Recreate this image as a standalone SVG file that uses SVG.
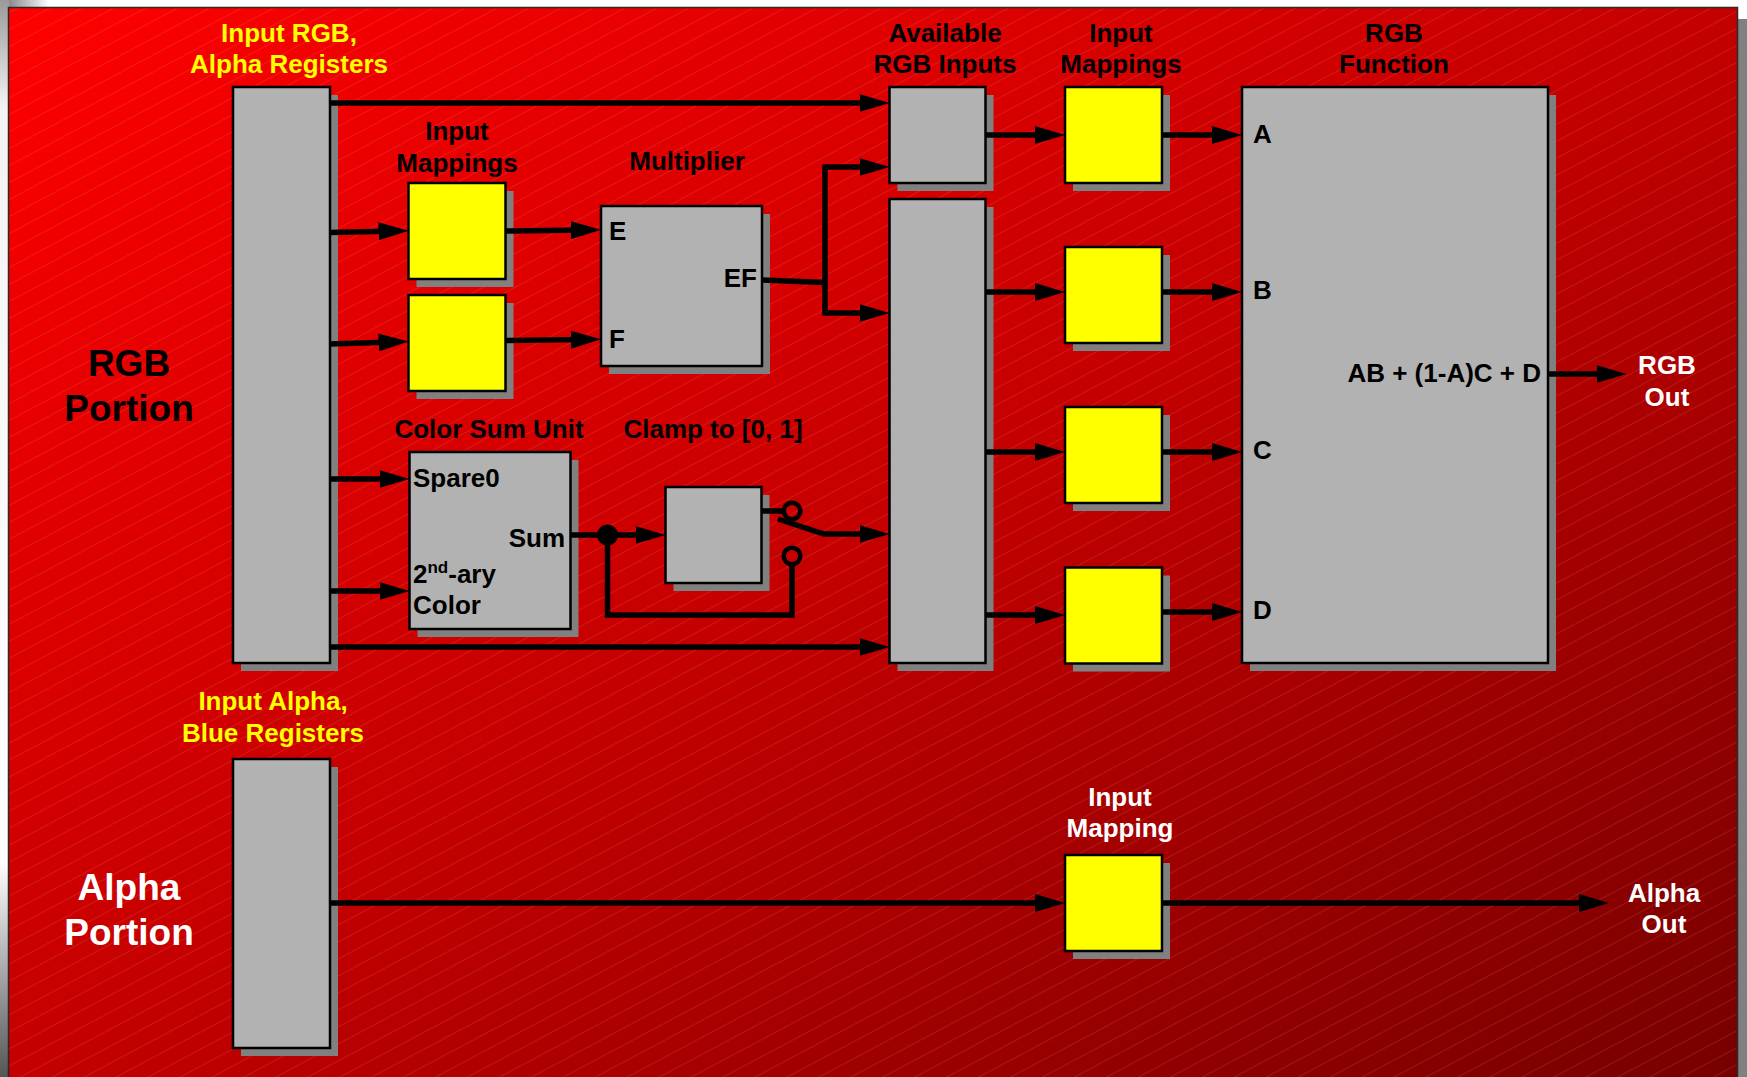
<svg xmlns="http://www.w3.org/2000/svg" width="1747" height="1077" viewBox="0 0 1747 1077">
<defs>
  <linearGradient id="bg" x1="0" y1="0" x2="1" y2="1">
    <stop offset="0" stop-color="#ff0000"/>
    <stop offset="0.5" stop-color="#c40000"/>
    <stop offset="1" stop-color="#760000"/>
  </linearGradient>
  <linearGradient id="leftEdge" x1="0" y1="0" x2="0" y2="1">
    <stop offset="0" stop-color="#9a9a9a"/>
    <stop offset="0.1" stop-color="#f4f4f4"/>
    <stop offset="0.8" stop-color="#ffffff"/>
    <stop offset="1" stop-color="#555555"/>
  </linearGradient>
  <linearGradient id="topEdge" x1="0" y1="0" x2="1" y2="0">
    <stop offset="0" stop-color="#8a8a8a"/>
    <stop offset="1" stop-color="#ffffff"/>
  </linearGradient>
  <pattern id="hatch" patternUnits="userSpaceOnUse" width="200" height="15" patternTransform="rotate(-28)">
    <line x1="0" y1="0.5" x2="200" y2="0.5" stroke="#ffb0b0" stroke-opacity="0.14" stroke-width="1"/>
  </pattern>
  <marker id="arr" markerUnits="userSpaceOnUse" markerWidth="30" markerHeight="18" viewBox="0 0 30 18" refX="15" refY="9" orient="auto">
    <path d="M0,0 L30,9 L0,18 Z" fill="#000"/>
  </marker>
</defs>
<style>
  .shadow { fill: #808080; }
  .gbox { fill: #b2b2b2; stroke: #000; stroke-width: 2.5; }
  .ybox { fill: #ffff00; stroke: #000; stroke-width: 2.5; }
  .conn { fill: none; stroke: #000; stroke-width: 5.5; stroke-linejoin: miter; }
  .arrow { marker-end: url(#arr); }
  text { font-family: "Liberation Sans", Arial, sans-serif; font-weight: bold; }
  .lbl { font-size: 26px; fill: #000; text-anchor: middle; }
  .ylbl { font-size: 26px; fill: #ffff00; text-anchor: middle; }
  .wlbl { font-size: 26px; fill: #ffffff; text-anchor: middle; }
  .big { font-size: 37px; fill: #000; text-anchor: middle; }
  .bigw { font-size: 37px; fill: #ffffff; text-anchor: middle; }
  .port { font-size: 26px; fill: #000; }
</style>

<!-- background -->
<rect x="0" y="0" width="1747" height="1077" fill="#ffffff"/>
<rect x="0" y="0" width="9" height="1077" fill="url(#leftEdge)"/>
<rect x="9" y="0" width="40" height="8" fill="url(#topEdge)"/>
<rect x="1737" y="19" width="12" height="1060" fill="#808080"/>
<rect x="8.5" y="7.5" width="1729" height="1080" fill="url(#bg)" stroke="#2a2a2a" stroke-width="1.5"/>
<rect x="9.5" y="8.5" width="1727" height="1070" fill="url(#hatch)"/>

<!-- section labels -->
<g id="label-rgb-portion">
  <text class="big" x="129" y="376">RGB</text>
  <text class="big" x="129" y="421">Portion</text>
</g>
<g id="label-alpha-portion">
  <text class="bigw" x="129" y="900">Alpha</text>
  <text class="bigw" x="129" y="945">Portion</text>
</g>

<!-- nodes -->
<g id="rgb-registers">
  <rect class="shadow" x="241" y="95" width="97" height="576"/>
  <rect class="gbox" x="233" y="87" width="97" height="576"/>
  <text class="ylbl" x="289" y="42">Input RGB,</text>
  <text class="ylbl" x="289" y="73">Alpha Registers</text>
</g>

<g id="alpha-registers">
  <rect class="shadow" x="241" y="767" width="97" height="289"/>
  <rect class="gbox" x="233" y="759" width="97" height="289"/>
  <text class="ylbl" x="273" y="710">Input Alpha,</text>
  <text class="ylbl" x="273" y="742">Blue Registers</text>
</g>

<g id="input-mapping-e">
  <rect class="shadow" x="416.5" y="191" width="97" height="96"/>
  <rect class="ybox" x="408.5" y="183" width="97" height="96"/>
  <text class="lbl" x="457" y="140">Input</text>
  <text class="lbl" x="457" y="172">Mappings</text>
</g>

<g id="input-mapping-f">
  <rect class="shadow" x="416.5" y="303" width="97" height="96"/>
  <rect class="ybox" x="408.5" y="295" width="97" height="96"/>
</g>

<g id="multiplier">
  <rect class="shadow" x="609" y="214" width="161" height="160"/>
  <rect class="gbox" x="601" y="206" width="161" height="160"/>
  <text class="lbl" x="687" y="170">Multiplier</text>
  <text class="port" x="609" y="240">E</text>
  <text class="port" x="609" y="348">F</text>
  <text class="port" x="757" y="287" text-anchor="end">EF</text>
</g>

<g id="color-sum-unit">
  <rect class="shadow" x="417.5" y="460" width="161" height="177"/>
  <rect class="gbox" x="409.5" y="452" width="161" height="177"/>
  <text class="lbl" x="489" y="438">Color Sum Unit</text>
  <text class="port" x="413" y="487">Spare0</text>
  <text class="port" x="565" y="547" text-anchor="end">Sum</text>
  <text class="port" x="413" y="583">2<tspan font-size="17" dy="-10">nd</tspan><tspan dy="10">-ary</tspan></text>
  <text class="port" x="413" y="614">Color</text>
</g>

<g id="clamp">
  <rect class="shadow" x="673.5" y="495" width="96" height="96"/>
  <rect class="gbox" x="665.5" y="487" width="96" height="96"/>
  <text class="lbl" x="713" y="438">Clamp to [0, 1]</text>
</g>

<g id="available-top">
  <rect class="shadow" x="897.5" y="95" width="96" height="96"/>
  <rect class="gbox" x="889.5" y="87" width="96" height="96"/>
  <text class="lbl" x="945" y="42">Available</text>
  <text class="lbl" x="945" y="73">RGB Inputs</text>
</g>

<g id="available-bottom">
  <rect class="shadow" x="897.5" y="207" width="96" height="464"/>
  <rect class="gbox" x="889.5" y="199" width="96" height="464"/>
</g>

<g id="mapping-a">
  <rect class="shadow" x="1073" y="95" width="97" height="96"/>
  <rect class="ybox" x="1065" y="87" width="97" height="96"/>
  <text class="lbl" x="1121" y="42">Input</text>
  <text class="lbl" x="1121" y="73">Mappings</text>
</g>
<g id="mapping-b">
  <rect class="shadow" x="1073" y="255" width="97" height="96"/>
  <rect class="ybox" x="1065" y="247" width="97" height="96"/>
</g>
<g id="mapping-c">
  <rect class="shadow" x="1073" y="415" width="97" height="96"/>
  <rect class="ybox" x="1065" y="407" width="97" height="96"/>
</g>
<g id="mapping-d">
  <rect class="shadow" x="1073" y="575.5" width="97" height="96"/>
  <rect class="ybox" x="1065" y="567.5" width="97" height="96"/>
</g>

<g id="rgb-function">
  <rect class="shadow" x="1250" y="95" width="306" height="576"/>
  <rect class="gbox" x="1242" y="87" width="306" height="576"/>
  <text class="lbl" x="1394" y="42">RGB</text>
  <text class="lbl" x="1394" y="73">Function</text>
  <text class="port" x="1253" y="143">A</text>
  <text class="port" x="1253" y="299">B</text>
  <text class="port" x="1253" y="459">C</text>
  <text class="port" x="1253" y="619">D</text>
  <text class="port" x="1541" y="382" text-anchor="end">AB + (1-A)C + D</text>
</g>

<g id="rgb-out">
  <text class="wlbl" x="1667" y="374">RGB</text>
  <text class="wlbl" x="1667" y="406">Out</text>
</g>

<g id="alpha-mapping">
  <rect class="shadow" x="1073" y="863" width="97" height="96"/>
  <rect class="ybox" x="1065" y="855" width="97" height="96"/>
  <text class="wlbl" x="1120" y="806">Input</text>
  <text class="wlbl" x="1120" y="837">Mapping</text>
</g>

<g id="alpha-out">
  <text class="wlbl" x="1664" y="902">Alpha</text>
  <text class="wlbl" x="1664" y="933">Out</text>
</g>

<!-- connectors -->
<g id="connectors">
  <path class="conn arrow" d="M330,103 H874.5"/>
  <path class="conn arrow" d="M330,232.5 L393.5,231"/>
  <path class="conn arrow" d="M330,344 L393.5,342"/>
  <path class="conn arrow" d="M505.5,231 L586,230"/>
  <path class="conn arrow" d="M505.5,340.5 L586,339.5"/>
  <path class="conn" d="M762,280 L825,282.5"/>
  <path class="conn arrow" d="M825,283 V167 H874.5"/>
  <path class="conn arrow" d="M825,282 V313 H874.5"/>
  <path class="conn arrow" d="M330,479 H394.5"/>
  <path class="conn arrow" d="M330,591 H394.5"/>
  <path class="conn arrow" d="M330,647 H874.5"/>
  <path class="conn arrow" d="M570.5,535 H650.5"/>
  <circle cx="607.5" cy="535" r="10.5" fill="#000"/>
  <path class="conn" d="M607.5,535 V615 H792 V564"/>
  <path class="conn" d="M761.5,511 H783"/>
  <circle cx="792" cy="511" r="8.3" fill="none" stroke="#000" stroke-width="4.5"/>
  <circle cx="792" cy="556" r="8.3" fill="none" stroke="#000" stroke-width="4.5"/>
  <path class="conn arrow" d="M778,519 L824,534 H874.5"/>
  <path class="conn arrow" d="M985.5,135 H1050"/>
  <path class="conn arrow" d="M985.5,292 H1050"/>
  <path class="conn arrow" d="M985.5,452 H1050"/>
  <path class="conn arrow" d="M985.5,615 H1050"/>
  <path class="conn arrow" d="M1162,135 H1227"/>
  <path class="conn arrow" d="M1162,292 H1227"/>
  <path class="conn arrow" d="M1162,452 H1227"/>
  <path class="conn arrow" d="M1162,612 H1227"/>
  <path class="conn arrow" d="M1548,374 H1611.5"/>
  <path class="conn arrow" d="M330,903 H1050"/>
  <path class="conn arrow" d="M1162,903 H1594"/>
</g>
</svg>
